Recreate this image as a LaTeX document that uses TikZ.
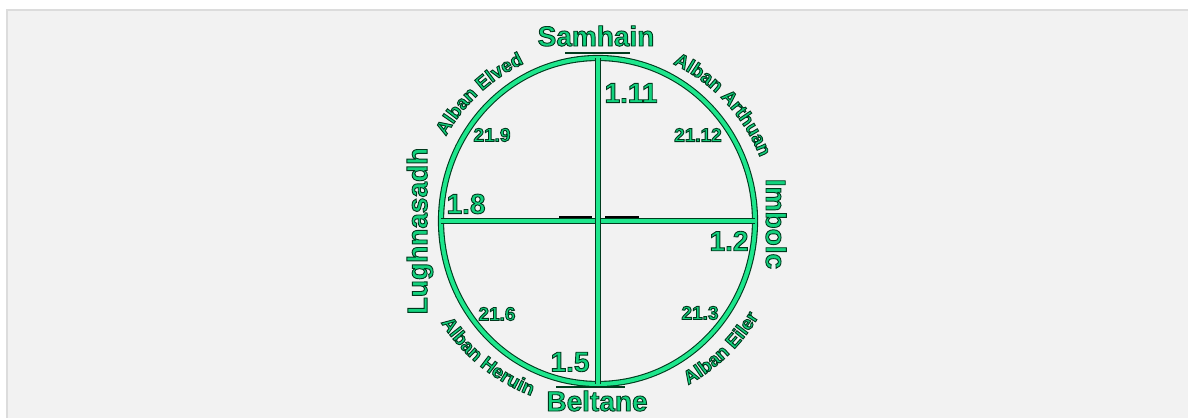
\documentclass[tikz,border=0pt]{standalone}
\usepackage{fontspec}
\setmainfont{Liberation Sans}
\usetikzlibrary{decorations.text}
\definecolor{bg}{HTML}{F2F2F2}
\definecolor{framec}{HTML}{DCDCDC}
\definecolor{brightg}{HTML}{1EE68C}
\definecolor{darkg}{HTML}{003C1E}
\definecolor{txtg}{HTML}{12D27E}
\newcommand\myoutline{\special{pdf:literal direct 2 Tr 0.9 w 0 0.22 0.11 RG}}
\newcommand\mytxt{\color{txtg}\myoutline}
\begin{document}
\begin{tikzpicture}[x=1pt,y=1pt,
  ring/.style={draw=darkg, line width=1.1pt, double=brightg, double distance=4pt},
  crossline/.style={draw=darkg, line width=1pt, double=brightg, double distance=3.5pt},
  bigtxt/.style={font=\bfseries\fontsize{28}{28}\selectfont, inner sep=0pt,
     execute at begin node=\mytxt},
  numtxt/.style={font=\bfseries\fontsize{28}{28}\selectfont, inner sep=0pt,
     execute at begin node=\mytxt},
  smalltxt/.style={font=\bfseries\fontsize{19}{19}\selectfont, inner sep=0pt,
     execute at begin node=\mytxt},
  arclabel/.style={decorate, decoration={text along path, text align=center, text color=txtg,
     text={|\bfseries\fontsize{19}{19}\selectfont\myoutline|#1}}},
  bar/.style={draw=darkg, line width=2pt}
]
\useasboundingbox (0,0) rectangle (1188,418);
\fill[white] (0,0) rectangle (1188,418);
\fill[framec] (6,0) rectangle (1188,409);
\fill[bg] (8,0) rectangle (1188,407);

\coordinate (C) at (598,197);
\coordinate (W) at (441,197);
\coordinate (E) at (755,197);
\coordinate (N) at (598,360);
\coordinate (S) at (598,34);

% small dark marks
\draw[bar] (565,365) -- (630,365);
\draw[bar] (556,31.5) -- (625,31.5);
\draw[black, line width=2pt] (559,201) -- (592,201);
\draw[black, line width=2pt] (605,201) -- (639,201);

\draw[ring] (C) ellipse [x radius=157, y radius=163];
\draw[crossline] (W) -- (E);
\draw[crossline] (N) -- (S);

% festivals
\node[bigtxt] (samhain) at (596,382) {Samhain};
\node[bigtxt] (beltane) at (597,17) {Beltane};
\node[bigtxt, rotate=90] (lugh) at (420,187) {Lughnasadh};
\node[bigtxt, rotate=-90] (imbolc) at (776,194) {Imbolc};

% dates
\node[numtxt] (d111) at (631,325) {1.11};
\node[numtxt] (d18) at (466,214) {1.8};
\node[numtxt] (d12) at (729,177) {1.2};
\node[numtxt] (d15) at (570,56) {1.5};
\node[smalltxt] (d219) at (492,283) {21.9};
\node[smalltxt] (d2112) at (698,283) {21.12};
\node[smalltxt] (d216) at (497,104) {21.6};
\node[smalltxt] (d213) at (700,105) {21.3};

% arc labels
\path[arclabel={Alban Elved}] (C) ++(178:174) arc[start angle=178, end angle=88, radius=174];
\path[arclabel={Alban Arthuan}] (C) ++(88:174) arc[start angle=88, end angle=-2, radius=174];
\path[arclabel={Alban Heruin}] (C) ++(186:187) arc[start angle=186, end angle=276, radius=187];
\path[arclabel={Alban Eiler}] (C) ++(269:187) arc[start angle=269, end angle=359, radius=187];
\end{tikzpicture}
\end{document}
